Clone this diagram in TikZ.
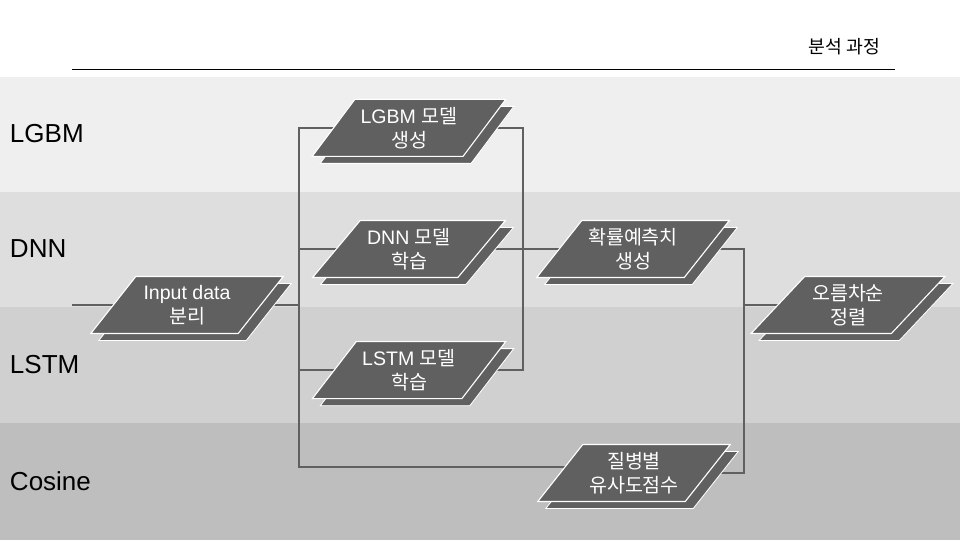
\documentclass[tikz,border=0pt]{standalone}
\usepackage{fontspec}
\setmainfont{Liberation Sans}
\newfontfamily\hangulfont{Noto Sans CJK KR}
\newcommand{\hg}[1]{{\hangulfont #1}}
\usepackage{tikz}
\usetikzlibrary{positioning,shapes.geometric,shadows}

\definecolor{bandA}{RGB}{239,239,239}
\definecolor{bandB}{RGB}{222,222,222}
\definecolor{bandC}{RGB}{208,208,208}
\definecolor{bandD}{RGB}{190,190,190}
\definecolor{boxgray}{RGB}{96,96,96}
\definecolor{wiregray}{RGB}{96,96,96}

\pgfdeclarelayer{bands}
\pgfdeclarelayer{wires}
\pgfsetlayers{bands,wires,main}

\begin{document}
\begin{tikzpicture}[
    x=0.025cm, y=-0.025cm,
    box/.style={
        trapezium,
        trapezium left angle=57,
        trapezium right angle=123,
        trapezium stretches=true,
        fill=boxgray,
        draw=white,
        line width=0.8pt,
        text=white,
        align=center,
        inner xsep=-0.35cm,
        inner ysep=0pt,
        minimum width=4.85cm,
        minimum height=1.425cm,
        font=\fontsize{13.9}{17.2}\selectfont,
        copy shadow={shadow xshift=0.2cm, shadow yshift=-0.175cm,
            fill=boxgray, draw=white, line width=0.6pt}
    },
    lane/.style={
        anchor=west,
        font=\fontsize{18.5}{22}\selectfont
    },
    wire/.style={
        draw=wiregray,
        line width=1.1pt
    }
]
\useasboundingbox (0,0) rectangle (960,540);

% Lanes
\begin{pgfonlayer}{bands}
\fill[bandA] (0,77) rectangle (960,192);
\fill[bandB] (0,192) rectangle (960,307);
\fill[bandC] (0,307) rectangle (960,423);
\fill[bandD] (0,423) rectangle (960,540);
\end{pgfonlayer}

\node[lane] (lgbmlane) at (5,134) {LGBM};
\node[lane] (dnnlane) at (5,249) {DNN};
\node[lane] (lstmlane) at (5,365) {LSTM};
\node[lane] (cosinelane) at (5,481) {Cosine};

% Title
\node[font=\fontsize{13}{15}\selectfont, anchor=east] (title) at (885,47) {\hg{분석 과정}};
\draw[line width=0.7pt] (72,69) -- (895,69);

% Steps
\node[box] (input) at (187,305) {Input data\\\hg{분리}};
\node[box] (dnn) at (409,249) {DNN \hg{모델}\\\hg{학습}};
\node[box, above=1.575cm of dnn] (lgbm) {LGBM \hg{모델}\\\hg{생성}};
\node[box, below=1.575cm of dnn] (lstm) {LSTM \hg{모델}\\\hg{학습}};
\node[box] (prob) at (633,249) {\hg{확률예측치}\\\hg{생성}};
\node[box] (cosine) at (634,473) {\hg{질병별}\\\hg{유사도점수}};
\node[box] (sort) at (848,305) {\hg{오름차순}\\\hg{정렬}};

\coordinate (start) at (72,305);
\coordinate (split) at (299,305);
\coordinate (merge) at (523,249);
\coordinate (join) at (744,305);

% Connectors
\begin{pgfonlayer}{wires}
\draw[wire] (start) -- (input.center) -- (split);
\draw[wire] (split) |- (lgbm.center);
\draw[wire] (split) |- (dnn.center);
\draw[wire] (split) |- (lstm.center);
\draw[wire] (split) |- ([yshift=0.15cm]cosine.center);
\draw[wire] (lgbm.center) -| (merge);
\draw[wire] (lstm.center) -| (merge);
\draw[wire] (dnn.center) -- (prob.center);
\draw[wire] (prob.center) -| (join);
\draw[wire] (cosine.center) -| (join);
\draw[wire] (join) -- (sort.center);
\end{pgfonlayer}

\end{tikzpicture}
\end{document}
